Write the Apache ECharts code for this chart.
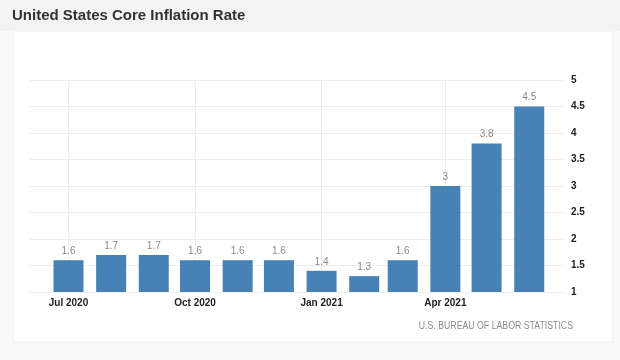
<!DOCTYPE html>
<html>
<head>
<meta charset="utf-8">
<script src="https://cdn.jsdelivr.net/npm/echarts@6/dist/echarts.min.js"></script>
<style>
html,body{margin:0;padding:0;background:#fafafa;}
#chart{width:620px;height:360px;}
</style>
</head>
<body>
<div id="chart"></div>
<script>
// Data
var months = ['2020-07-01','2020-08-01','2020-09-01','2020-10-01','2020-11-01','2020-12-01',
              '2021-01-01','2021-02-01','2021-03-01','2021-04-01','2021-05-01','2021-06-01'];
var coreInflation = [1.6, 1.7, 1.7, 1.6, 1.6, 1.6, 1.4, 1.3, 1.6, 3.0, 3.8, 4.5];
var tickDates = ['2020-07-01','2020-10-01','2021-01-01','2021-04-01'];
var tickLabels = ['Jul 2020','Oct 2020','Jan 2021','Apr 2021'];

function ts(s){ var p = s.split('-'); return Date.UTC(+p[0], +p[1]-1, +p[2]); }
var tickTs = tickDates.map(ts);
var seriesData = months.map(function(m, i){ return [ts(m), coreInflation[i]]; });

var chart = echarts.init(document.getElementById('chart'), null, {renderer:'canvas'});
var option = {
  backgroundColor: '#fafafa',
  animation: false,
  graphic: [
    {type:'rect', shape:{x:0,y:0,width:620,height:31}, style:{fill:'#f3f3f3'}, z:-10},
    {type:'rect', shape:{x:13,y:31,width:600,height:311}, style:{fill:'#ffffff', stroke:'#f0f0f0', lineWidth:1}, z:-10},
    {type:'text', left:12, top:8, style:{text:'United States Core Inflation Rate', font:'bold 15px "Liberation Sans", Arial, sans-serif', fill:'#333333'}},
    {type:'text', x:573, y:326, scaleX:0.875,
     style:{text:'U.S. BUREAU OF LABOR STATISTICS', font:'10px "Liberation Sans", Arial, sans-serif', fill:'#8a8a8a', align:'right', verticalAlign:'middle'}}
  ],
  grid: {left:30, right:55, top:80, bottom:68},
  xAxis: {
    type: 'value',
    min: ts('2020-06-03'),
    max: ts('2021-06-27'),
    axisLine: {show:false},
    axisTick: {show:false, customValues: tickTs},
    splitLine: {show:true, lineStyle:{color:'#eeeeee', width:1}},
    axisLabel: {
      customValues: tickTs,
      formatter: function(v){ var i = tickTs.indexOf(v); return i >= 0 ? tickLabels[i] : ''; },
      color: '#222222', fontSize: 10, fontWeight: 'bold',
      fontFamily: '"Liberation Sans", Arial, sans-serif', margin: 6
    }
  },
  yAxis: {
    type: 'value',
    position: 'right',
    min: 1, max: 5, interval: 0.5,
    axisLine: {show:false},
    axisTick: {show:false},
    splitLine: {show:true, lineStyle:{color:'#eeeeee', width:1}},
    axisLabel: {
      color: '#222222', fontSize: 10, fontWeight: 'bold',
      fontFamily: '"Liberation Sans", Arial, sans-serif', margin: 6
    }
  },
  series: [{
    type: 'bar',
    data: seriesData,
    barWidth: 30,
    itemStyle: {color: '#4682B4'},
    label: {
      show: true, position: 'top', distance: 4,
      color: '#8a8a8a', fontSize: 10,
      fontFamily: '"Liberation Sans", Arial, sans-serif',
      formatter: function(p){ return String(p.value[1]); }
    }
  }]
};
chart.setOption(option);
</script>
</body>
</html>
